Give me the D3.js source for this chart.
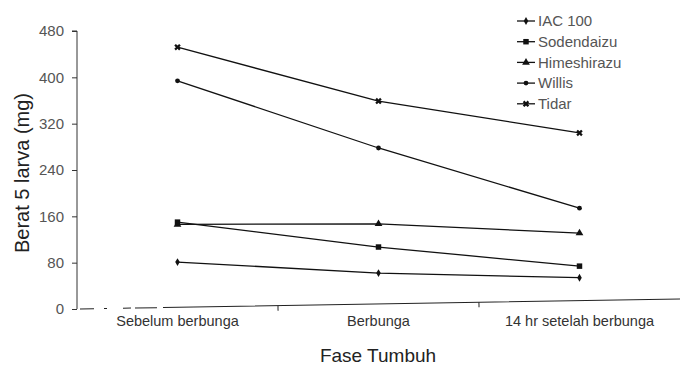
<!DOCTYPE html>
<html>
<head>
<meta charset="utf-8">
<script src="https://cdn.jsdelivr.net/npm/d3@7"></script>
<style>
  body { margin: 0; background: #fff; }
  svg { font-family: "Liberation Sans", Arial, sans-serif; }
  .y-axis path, .y-axis line { stroke: #333; }
  .y-axis text { fill: #555; font-size: 15px; }
  .x-axis text { fill: #333; font-size: 14.5px; }
</style>
</head>
<body>
<div id="chart"></div>
<script>
// fase tumbuh (x categories)
const phases = ['Sebelum berbunga', 'Berbunga', '14 hr setelah berbunga'];
const yTicks = [0, 80, 160, 240, 320, 400, 480];

// berat 5 larva (mg), one array per varietas
const iac100 = [81, 62, 54];
const sodendaizu = [150, 107, 74];
const himeshirazu = [146, 147, 131];
const willis = [394, 278, 174];
const tidar = [452, 359, 304];

const seriesNames = ['IAC 100', 'Sodendaizu', 'Himeshirazu', 'Willis', 'Tidar'];
const seriesValues = [iac100, sodendaizu, himeshirazu, willis, tidar];
const seriesSymbols = [d3.symbolDiamond, d3.symbolSquare, d3.symbolTriangle, d3.symbolCircle, d3.symbolCross];
const symbolSizes = [18, 30, 26, 18, 26];

const width = 680, height = 367;
const margin = { left: 77, right: 0, top: 31, bottom: 58 };

const svg = d3.select('#chart').append('svg')
  .attr('width', width)
  .attr('height', height);

const x = d3.scaleBand()
  .domain(phases)
  .range([margin.left, width - margin.right])
  .padding(0);

const y = d3.scaleLinear()
  .domain([0, 480])
  .range([height - margin.bottom, margin.top]);

// y axis
svg.append('g')
  .attr('class', 'y-axis')
  .attr('transform', `translate(${margin.left},0)`)
  .call(d3.axisLeft(y).tickValues(yTicks).tickSize(5).tickSizeOuter(0).tickPadding(8))
  .call(g => g.select('.domain').attr('d', `M0,${y(0)}V${y(480)}H-5`));

// x axis (scan is slightly tilted)
const xAxis = svg.append('g')
  .attr('class', 'x-axis')
  .attr('transform', `translate(0,${y(0)})`);

const axisLine = xAxis.append('g')
  .attr('transform', `rotate(-0.95,${margin.left},0)`);

axisLine.append('line')
  .attr('x1', margin.left + 3)
  .attr('x2', width + 10)
  .attr('y1', 0)
  .attr('y2', 0)
  .attr('stroke', '#222')
  .attr('stroke-width', 1)
  .attr('stroke-dasharray', '14,10,3,16,8,4,22,6,1000,0');

axisLine.selectAll('.tick')
  .data(phases.slice(1))
  .join('line')
  .attr('class', 'tick')
  .attr('x1', d => x(d))
  .attr('x2', d => x(d))
  .attr('y1', 0)
  .attr('y2', 5)
  .attr('stroke', '#222');

xAxis.selectAll('.label')
  .data(phases)
  .join('text')
  .attr('class', 'label')
  .attr('x', d => x(d) + x.bandwidth() / 2)
  .attr('y', 17)
  .attr('text-anchor', 'middle')
  .attr('fill', (d, i) => i === 0 ? '#bbb' : '#333')
  .text(d => d);

// axis titles
svg.append('text')
  .attr('x', 378)
  .attr('y', 362)
  .attr('text-anchor', 'middle')
  .attr('font-size', 19)
  .attr('fill', '#222')
  .text('Fase Tumbuh');

svg.append('text')
  .attr('transform', `translate(29,${(y(0) + y(480)) / 2 + 3}) rotate(-90)`)
  .attr('text-anchor', 'middle')
  .attr('font-size', 20)
  .attr('fill', '#222')
  .text('Berat 5 larva (mg)');

// lines + markers
const cx = d => x(d) + x.bandwidth() / 2;
const line = d3.line()
  .x((d, i) => cx(phases[i]))
  .y(d => y(d));

const series = svg.append('g').selectAll('.series')
  .data(seriesValues)
  .join('g')
  .attr('class', 'series');

series.append('path')
  .attr('d', d => line(d))
  .attr('fill', 'none')
  .attr('stroke', '#111')
  .attr('stroke-width', 1.3);

series.each(function (vals, s) {
  d3.select(this).selectAll('path.dot')
    .data(vals)
    .join('path')
    .attr('class', 'dot')
    .attr('transform', (d, i) => `translate(${cx(phases[i])},${y(d)})` + (s === 4 ? ' rotate(45)' : ''))
    .attr('d', d3.symbol().type(seriesSymbols[s]).size(symbolSizes[s]))
    .attr('fill', '#111');
});

// legend
const legend = svg.append('g')
  .attr('transform', 'translate(517,21)');

const legendRows = legend.selectAll('.row')
  .data(seriesNames)
  .join('g')
  .attr('class', 'row')
  .attr('transform', (d, i) => `translate(0,${i * 20.7})`);

legendRows.append('line')
  .attr('x1', 0)
  .attr('x2', 18)
  .attr('stroke', '#111')
  .attr('stroke-width', 1.3);

legendRows.append('path')
  .attr('transform', (d, i) => 'translate(9,0)' + (i === 4 ? ' rotate(45)' : ''))
  .attr('d', (d, i) => d3.symbol().type(seriesSymbols[i]).size(symbolSizes[i])())
  .attr('fill', '#111');

legendRows.append('text')
  .attr('x', 21)
  .attr('dy', '0.35em')
  .attr('font-size', 15)
  .attr('fill', '#555')
  .text(d => d);
</script>
</body>
</html>
